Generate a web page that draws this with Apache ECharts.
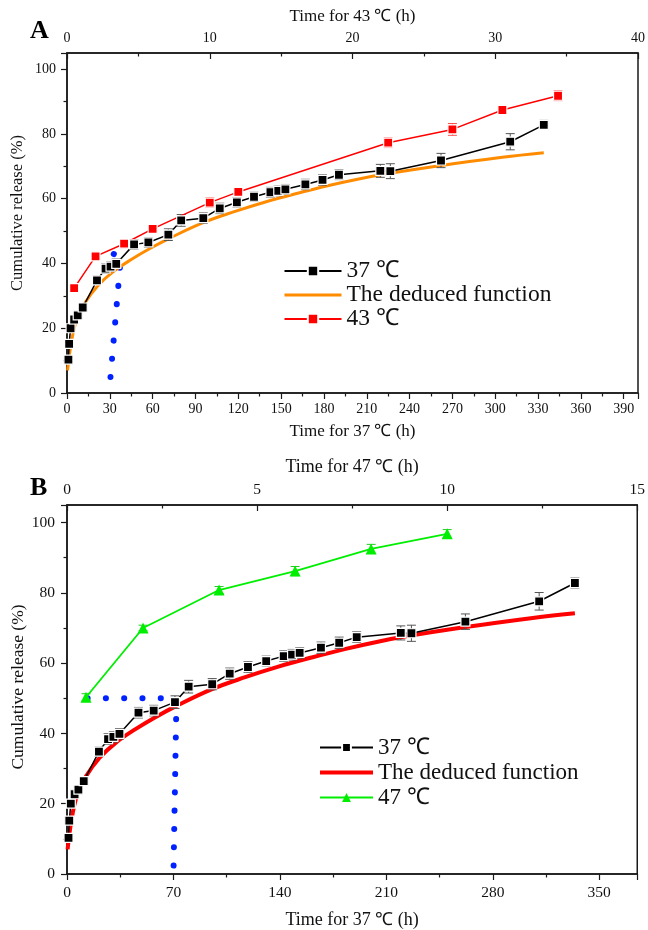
<!DOCTYPE html>
<html><head><meta charset="utf-8">
<script src="https://cdn.jsdelivr.net/npm/echarts@6/dist/echarts.min.js"></script>
<style>html,body{margin:0;padding:0;background:#fff}#c{width:648px;height:930px}</style>
</head><body><div id="c"></div>
<script>
// ---- data ----
const t37 = [1, 1.5, 2.5, 5, 7.5, 11, 21, 27, 30.5, 34.5, 47, 57, 71, 80, 95.5, 107, 119, 131, 142.5, 148, 153, 167, 179, 190.5, 219.5, 226.5, 262, 310.5, 334];
const v37 = [10.3, 15.2, 20.0, 22.7, 24.0, 26.4, 34.8, 38.4, 39.0, 39.9, 45.9, 46.5, 48.9, 53.3, 54.0, 57.0, 58.9, 60.6, 62.0, 62.4, 62.9, 64.4, 65.8, 67.4, 68.6, 68.5, 71.8, 77.6, 82.8];
const e37 = [0.8, 0.8, 1.0, 1.0, 1.0, 1.2, 1.3, 1.5, 1.5, 1.5, 1.5, 1.5, 1.8, 1.8, 1.6, 1.6, 1.5, 1.4, 1.5, 1.5, 1.5, 1.6, 1.6, 1.5, 2.0, 2.3, 2.2, 2.5, 1.4];

const t43 = [0.5, 2, 4, 6, 10, 12, 22.5, 27, 30.5, 34.4];
const v43 = [32.4, 42.2, 46.1, 50.7, 58.8, 62.1, 77.3, 81.4, 87.4, 91.8];
const e43 = [0.8, 0.8, 1.2, 1.3, 1.5, 1.3, 1.5, 1.8, 1.3, 1.5];

const t47 = [0.5, 2, 4, 6, 8, 10];
const v47 = [50.3, 70.0, 80.8, 86.2, 92.5, 96.8];
const e47 = [1.0, 0.8, 1.0, 1.3, 1.3, 1.2];

const fitT = [0.4, 1.6, 3.8, 7.1, 12.5, 21.3, 32.2, 45.3, 58.4, 71.4, 95.4, 117.2, 139, 160.8, 182.6, 204.4, 224, 261, 305, 334];
const fitV = [7.0, 11.4, 17.5, 23.0, 27.8, 33.0, 37.4, 41.3, 44.7, 47.7, 52.6, 56.0, 59.0, 61.6, 64.0, 66.1, 67.7, 70.2, 72.8, 74.2];

const guideAT = [20, 32.3, 37.7, 29.5];
const guideAV = [42.6, 43, 42, 0];
const guideBT = [13.5, 72, 70];
const guideBV = [50, 50, 0];

const xTicksA = {bottomMax: 400, bottomStep: 30, topMax: 40, topStep: 10};
const xTicksB = {bottomMax: 375, bottomStep: 70, topMax: 15, topStep: 5};
const yTicks = {max: 105, step: 20};

// ---- chart ----
const F = 'Liberation Serif';
const AX = '#1a1a1a';
const pairs = (t, v) => t.map((x, i) => [x, v[i]]);

function xAxis(gridIndex, position, max, interval, name, fs, nfs, nameGap, margin) {
  const top = position === 'top';
  return {
    type: 'value', gridIndex, position, min: 0, max, interval,
    name, nameLocation: 'middle', nameGap,
    nameTextStyle: {fontFamily: F, fontSize: nfs, color: '#111'},
    axisLine: {show: true, onZero: false, lineStyle: {color: AX, width: 1.5}},
    axisTick: {show: true, inside: top, length: 6, lineStyle: {color: AX, width: 1.2}},
    minorTick: {show: true, splitNumber: 2, length: 3.5, lineStyle: {color: AX, width: 1.2}},
    axisLabel: {fontFamily: F, fontSize: fs, color: '#111', margin, showMaxLabel: top},
    splitLine: {show: false}, minorSplitLine: {show: false}
  };
}
function yAxis(gridIndex, fs, margin) {
  return {
    type: 'value', gridIndex, min: 0, max: yTicks.max, interval: yTicks.step,
    axisLine: {show: true, onZero: false, lineStyle: {color: AX, width: 1.5}},
    axisTick: {show: true, inside: false, length: 6, lineStyle: {color: AX, width: 1.2}},
    minorTick: {show: true, splitNumber: 2, length: 3.5, lineStyle: {color: AX, width: 1.2}},
    axisLabel: {fontFamily: F, fontSize: fs, color: '#111', margin, showMaxLabel: false},
    splitLine: {show: false}
  };
}
function errSeries(t, v, e, xi, yi, color) {
  return {
    type: 'custom', xAxisIndex: xi, yAxisIndex: yi, silent: true, z: 3,
    encode: {x: 0, y: [1, 2]},
    data: t.map((x, i) => [x, v[i] - e[i], v[i] + e[i]]),
    renderItem(params, api) {
      const x = api.value(0);
      const lo = api.coord([x, api.value(1)]);
      const hi = api.coord([x, api.value(2)]);
      const w = 4.5;
      const st = {stroke: color, lineWidth: 1};
      return {type: 'group', children: [
        {type: 'line', shape: {x1: lo[0], y1: lo[1], x2: hi[0], y2: hi[1]}, style: st},
        {type: 'line', shape: {x1: lo[0] - w, y1: lo[1], x2: lo[0] + w, y2: lo[1]}, style: st},
        {type: 'line', shape: {x1: hi[0] - w, y1: hi[1], x2: hi[0] + w, y2: hi[1]}, style: st}
      ]};
    }
  };
}
function guide(t, v, xi, yi) {
  return {
    type: 'line', xAxisIndex: xi, yAxisIndex: yi, data: pairs(t, v), symbol: 'none', silent: true, z: 2,
    lineStyle: {color: '#0022ff', width: 6, type: [0.1, 18.2], cap: 'round'}
  };
}

const chart = echarts.init(document.getElementById('c'), null, {renderer: 'canvas'});
chart.setOption({
  animation: false,
  backgroundColor: '#fff',
  grid: [
    {left: 67, right: 5, top: 53, height: 340, show: true, borderColor: AX, borderWidth: 1.5},
    {left: 67, right: 7, top: 505, height: 372, show: true, borderColor: AX, borderWidth: 1.5}
  ],
  xAxis: [
    xAxis(0, 'bottom', xTicksA.bottomMax, xTicksA.bottomStep, 'Time for 37 \u2103 (h)', 14, 17, 30, 9),
    xAxis(0, 'top', xTicksA.topMax, xTicksA.topStep, 'Time for 43 \u2103 (h)', 14, 17, 28, 8),
    xAxis(1, 'bottom', xTicksB.bottomMax, xTicksB.bottomStep, 'Time for 37 \u2103 (h)', 15.5, 18, 37, 11),
    xAxis(1, 'top', xTicksB.topMax, xTicksB.topStep, 'Time for 47 \u2103 (h)', 15.5, 18, 29, 7)
  ],
  yAxis: [yAxis(0, 14, 11), yAxis(1, 15.5, 12)],
  legend: [
    {orient: 'vertical', left: 278, top: 254, itemWidth: 57, itemHeight: 13, itemGap: 0,
     data: ['37 \u2103', {name: 'The deduced function', itemStyle: {opacity: 0}, lineStyle: {width: 3}}, '43 \u2103'],
     textStyle: {fontFamily: F, fontSize: 23.5, color: '#111'}},
    {orient: 'vertical', left: 313, top: 731, itemWidth: 53, itemHeight: 11, itemGap: 2,
     data: ['37 \u2103 ', {name: 'fitB', itemStyle: {opacity: 0}, lineStyle: {width: 4}}, '47 \u2103'],
     formatter: n => (n === 'fitB' ? 'The deduced function' : n),
     textStyle: {fontFamily: F, fontSize: 23, color: '#111'}}
  ],
  graphic: [
    {type: 'text', left: 30, top: 18, style: {text: 'A', font: 'bold 26px "Liberation Serif"', fill: '#000'}},
    {type: 'text', left: 30, top: 475, style: {text: 'B', font: 'bold 26px "Liberation Serif"', fill: '#000'}},
    {type: 'text', x: 18, y: 213, rotation: Math.PI / 2,
     style: {text: 'Cumulative release (%)', font: '16.5px "Liberation Serif"', fill: '#111', align: 'center', verticalAlign: 'middle'}},
    {type: 'text', x: 18, y: 687, rotation: Math.PI / 2,
     style: {text: 'Cumulative release (%)', font: '17.5px "Liberation Serif"', fill: '#111', align: 'center', verticalAlign: 'middle'}}
  ],
  series: [
    // panel A
    guide(guideAT, guideAV, 0, 0),
    {name: 'The deduced function', type: 'line', xAxisIndex: 0, yAxisIndex: 0, data: pairs(fitT, fitV),
     symbol: 'none', smooth: 0.4, z: 2, lineStyle: {color: '#ff8c00', width: 3}, itemStyle: {color: '#ff8c00'}},
    errSeries(t37, v37, e37, 0, 0, '#555'),
    {name: '37 \u2103', type: 'line', xAxisIndex: 0, yAxisIndex: 0, data: pairs(t37, v37),
     symbol: 'rect', symbolSize: 9, z: 4,
     lineStyle: {color: '#000', width: 1.5}, itemStyle: {color: '#000', borderColor: '#fff', borderWidth: 1.2}},
    errSeries(t43, v43, e43, 1, 0, '#ff4040'),
    {name: '43 \u2103', type: 'line', xAxisIndex: 1, yAxisIndex: 0, data: pairs(t43, v43),
     symbol: 'rect', symbolSize: 9, z: 4,
     lineStyle: {color: '#ff0000', width: 1.5}, itemStyle: {color: '#ff0000', borderColor: '#fff', borderWidth: 1.2}},
    // panel B
    {name: 'fitB', type: 'line', xAxisIndex: 2, yAxisIndex: 1, data: pairs(fitT, fitV),
     symbol: 'none', smooth: 0.4, z: 2, lineStyle: {color: '#ff0000', width: 4}, itemStyle: {color: '#ff0000'}},
    guide(guideBT, guideBV, 2, 1),
    errSeries(t37, v37, e37, 2, 1, '#555'),
    {name: '37 \u2103 ', type: 'line', xAxisIndex: 2, yAxisIndex: 1, data: pairs(t37, v37),
     symbol: 'rect', symbolSize: 9, z: 4,
     lineStyle: {color: '#000', width: 1.5}, itemStyle: {color: '#000', borderColor: '#fff', borderWidth: 1.2}},
    errSeries(t47, v47, e47, 3, 1, '#22cc22'),
    {name: '47 \u2103', type: 'line', xAxisIndex: 3, yAxisIndex: 1, data: pairs(t47, v47),
     symbol: 'triangle', symbolSize: 11, z: 4,
     lineStyle: {color: '#00ee00', width: 1.8}, itemStyle: {color: '#00ee00'}}
  ]
});
</script>
</body></html>
